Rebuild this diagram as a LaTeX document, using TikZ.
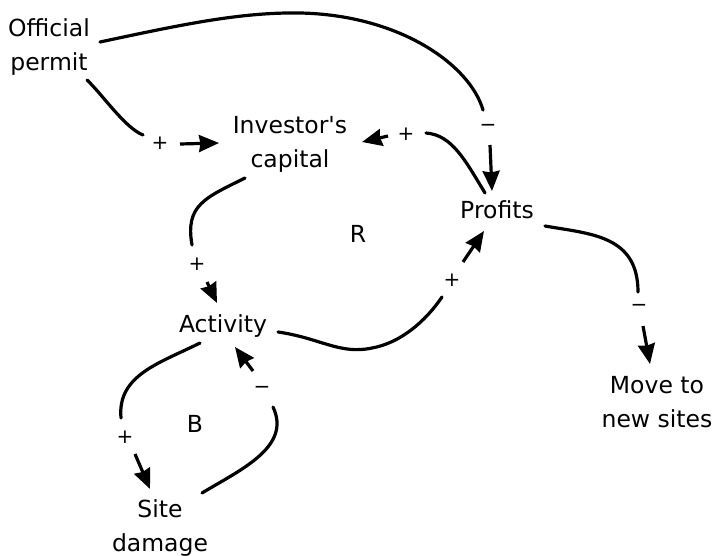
\documentclass[tikz,border=0pt]{standalone}
\usepackage{fontspec}
\setmainfont{DejaVu Sans}
\usetikzlibrary{arrows.meta}
\begin{document}
\begin{tikzpicture}[x=1pt,y=-1pt,
  var/.style={font=\fontsize{23.5}{34}\selectfont, align=center, inner sep=0pt, anchor=base},
  sgn/.style={font=\fontsize{20}{22}\selectfont, inner sep=0pt},
  lnk/.style={line width=3.2pt, line cap=round},
  arr/.style={line width=3.2pt, -{Stealth[length=20pt,width=17pt,inset=1.5pt]}}]
\useasboundingbox (0,0) rectangle (713,556);
% variables (anchor = baseline of last line)
\node[var] (op) at (49,71) {Official\\permit};
\node[var] (ic) at (290,168) {Investor\textquotesingle s\\capital};
\node[var] (pr) at (497,219) {Profits};
\node[var] (ac) at (223,333) {Activity};
\node[var] (sd) at (160,551) {Site\\damage};
\node[var] (mv) at (657,427) {Move to\\new sites};
\node[var] (R) at (358,243) {R};
\node[var] (B) at (195,432) {B};
% signs
\node[sgn] (s1) at (488,128) {−};
\node[sgn] (s2) at (160,143) {+};
\node[sgn] (s3) at (406,134) {+};
\node[sgn] (s4) at (197,264) {+};
\node[sgn] (s5) at (452,280) {+};
\node[sgn] (s6) at (639,308) {−};
\node[sgn] (s7) at (125,437) {+};
\node[sgn] (s8) at (262,390) {−};
% link coordinates
\coordinate (a1) at (100,42);  \coordinate (b1) at (483,110);
\coordinate (c1) at (490,145); \coordinate (d1) at (492,191);
\coordinate (a2) at (87,80);   \coordinate (b2) at (143,135);
\coordinate (c2) at (180,144); \coordinate (d2) at (219,143);
\coordinate (a3) at (485,193); \coordinate (b3) at (426,133);
\coordinate (c3) at (388,136); \coordinate (d3) at (362,142);
\coordinate (a4) at (245,178); \coordinate (b4) at (192,245);
\coordinate (c4) at (207,282); \coordinate (d4) at (217,303);
\coordinate (a5) at (278,332); \coordinate (b5) at (442,297);
\coordinate (c5) at (463,262); \coordinate (d5) at (484,231);
\coordinate (a6) at (545,226); \coordinate (b6) at (638,292);
\coordinate (c6) at (643,326); \coordinate (d6) at (650,364);
\coordinate (a7) at (200,343); \coordinate (b7) at (121,418);
\coordinate (c7) at (135,454); \coordinate (d7) at (150,489);
\coordinate (a8) at (202,493); \coordinate (b8) at (273,407);
\coordinate (c8) at (253,371); \coordinate (d8) at (235,347);
% curves
\draw[lnk] (a1) .. controls (180,25) and (240,12) .. (300,13)
               .. controls (400,15) and (470,65) .. (b1);
\draw[arr] (c1) -- (d1);
\draw[lnk] (a2) .. controls (102,94) and (125,128) .. (b2);
\draw[arr] (c2) -- (d2);
\draw[lnk] (a3) .. controls (465,160) and (452,135) .. (b3);
\draw[arr] (c3) -- (d3);
\draw[lnk] (a4) .. controls (205,198) and (185,205) .. (b4);
\draw[arr] (c4) -- (d4);
\draw[lnk] (a5) .. controls (320,338) and (340,355) .. (372,348)
               .. controls (400,343) and (425,322) .. (b5);
\draw[arr] (c5) -- (d5);
\draw[lnk] (a6) .. controls (590,234) and (638,235) .. (b6);
\draw[arr] (c6) -- (d6);
\draw[lnk] (a7) .. controls (160,363) and (117,375) .. (b7);
\draw[arr] (c7) -- (d7);
\draw[lnk] (a8) .. controls (240,470) and (292,447) .. (b8);
\draw[arr] (c8) -- (d8);
\end{tikzpicture}
\end{document}
